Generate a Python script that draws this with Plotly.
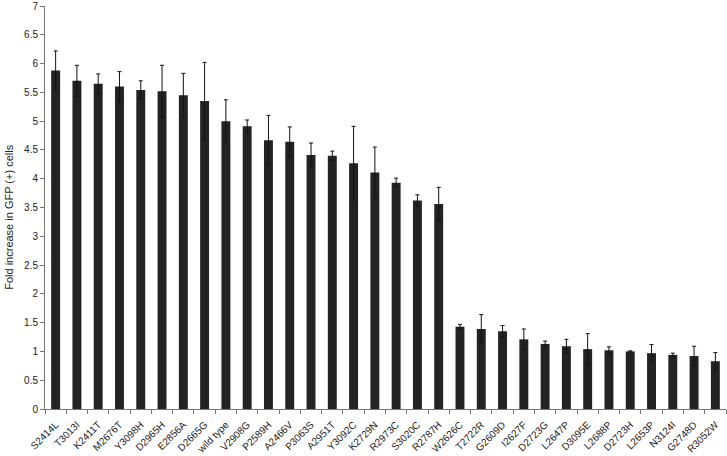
import plotly.graph_objects as go

# Mutants ordered by fold increase
mutants = ['S2414L', 'T3013I', 'K2411T', 'M2676T', 'Y3098H', 'D2965H', 'E2856A',
           'D2665G', 'wild type', 'V2908G', 'P2589H', 'A2466V', 'P3063S', 'A2951T',
           'Y3092C', 'K2729N', 'R2973C', 'S3020C', 'R2787H', 'W2626C', 'T2722R',
           'G2609D', 'I2627F', 'D2723G', 'L2647P', 'D3095E', 'L2688P', 'D2723H',
           'L2653P', 'N3124I', 'G2748D', 'R3052W']
fold_increase = [5.88, 5.70, 5.65, 5.60, 5.54, 5.52, 5.45, 5.35, 5.00, 4.91,
                 4.67, 4.64, 4.41, 4.40, 4.27, 4.11, 3.93, 3.62, 3.56, 1.43,
                 1.39, 1.35, 1.21, 1.13, 1.09, 1.04, 1.02, 1.00, 0.97, 0.94,
                 0.92, 0.83]
errors = [0.34, 0.27, 0.17, 0.26, 0.16, 0.45, 0.38, 0.67, 0.37, 0.11,
          0.43, 0.26, 0.21, 0.08, 0.64, 0.44, 0.08, 0.10, 0.29, 0.04,
          0.25, 0.10, 0.18, 0.05, 0.12, 0.27, 0.06, 0.01, 0.15, 0.03,
          0.17, 0.15]

y_ticks = [0, 0.5, 1, 1.5, 2, 2.5, 3, 3.5, 4, 4.5, 5, 5.5, 6, 6.5, 7]

fig = go.Figure()
fig.add_trace(go.Bar(
    x=mutants,
    y=fold_increase,
    width=0.42,
    marker=dict(color='#232323', line=dict(width=0)),
    error_y=dict(type='data', array=errors, visible=True,
                 color='#111111', thickness=1, width=2),
))

fig.update_layout(
    width=727, height=456,
    margin=dict(l=45, r=1, t=6, b=47),
    paper_bgcolor='white',
    plot_bgcolor='white',
    showlegend=False,
    font=dict(family='Liberation Sans, Arial, sans-serif', color='#222222'),
    xaxis=dict(
        type='category',
        tickangle=-45,
        tickfont=dict(size=10),
        ticklabelstandoff=5,
        ticks='outside', tickson='boundaries', ticklen=4,
        tickcolor='#777777',
        showline=True, linecolor='#777777', linewidth=1,
        showgrid=False, automargin=False,
        range=[-0.5, len(mutants) - 0.5],
    ),
    yaxis=dict(
        range=[0, 7],
        tickvals=y_ticks,
        ticktext=[f'{v:g}' for v in y_ticks],
        tickfont=dict(size=10),
        ticklabeloverflow='allow',
        ticks='outside', ticklen=4, tickcolor='#777777',
        showline=True, linecolor='#777777', linewidth=1,
        showgrid=False, zeroline=False, automargin=False,
    ),
)

# y title sits a little below the plot's middle in the original, so place it by hand
fig.add_annotation(
    text='Fold increase in GFP (+) cells',
    xref='paper', yref='paper', x=-0.054, y=0.475,
    xanchor='center', yanchor='middle', textangle=-90,
    showarrow=False, font=dict(size=11),
)

# drop the default body margin so the figure sits at the window's corner
fig.write_html("out.html", config={'displayModeBar': False},
               post_script="document.body.style.margin='0';")
